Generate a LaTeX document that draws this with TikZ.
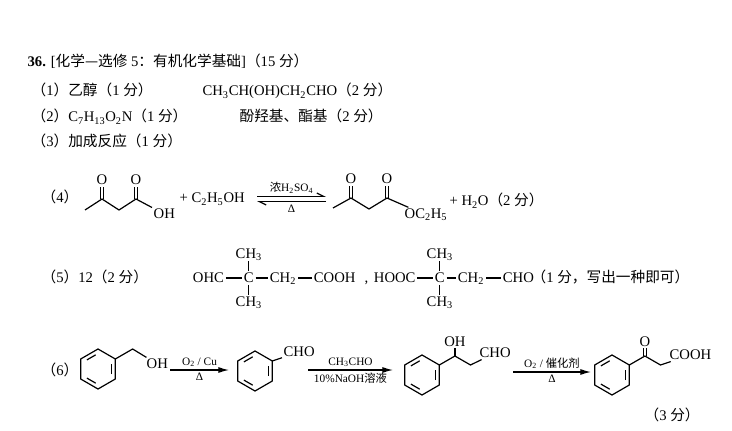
\documentclass[tikz,border=0pt]{standalone}
\usepackage{fontspec}
\setmainfont{Liberation Serif}
\newfontfamily\cjk{Noto Sans CJK SC}
\usetikzlibrary{arrows.meta,positioning}
\newcommand{\Zh}[1]{{\cjk #1}}
\newcommand{\Sb}[1]{\textsubscript{#1}}
% benzene ring, corners #1-1 ... #1-6 (#1-1 upper right)
\newcommand{\Ring}[2]{%
  \begin{scope}[shift={#2}]
    \foreach \k in {1,...,6}
      \coordinate (#1-\k) at (\k*60-30:20);
    \draw (#1-1) -- (#1-2) -- (#1-3) -- (#1-4) -- (#1-5) -- (#1-6) -- cycle;
    \draw[shorten <=2pt,shorten >=2pt] (90:15.5) -- (150:15.5);
    \draw[shorten <=2pt,shorten >=2pt] (210:15.5) -- (270:15.5);
    \draw[shorten <=2pt,shorten >=2pt] (330:15.5) -- (30:15.5);
  \end{scope}}

\begin{document}
\begin{tikzpicture}[x=0.75pt,y=0.75pt,line width=0.9pt,line join=round,
    font=\fontsize{11}{13}\selectfont,
    txt/.style={anchor=base west,inner sep=0pt},
    grp/.style={inner sep=1pt,text height=7pt,text depth=0.5pt},
    atom/.style={inner sep=0.8pt},
    dbl/.style={double,double distance=1.6pt},
    lbl/.style={font=\fontsize{8.5}{10}\selectfont,inner sep=2pt},
    rxn/.style={-{Latex[length=8pt,width=4.5pt]}},
    eqm/.style={-{Straight Barb[left,length=5pt,width=5pt]}}]
  \useasboundingbox (0,0) rectangle (732,-431);

  % heading and (1)-(3)
  \node[txt] (head) at (27,-67) {\textbf{36.} [\Zh{化学—选修} 5\Zh{：有机化学基础}]\Zh{（}15 \Zh{分）}};
  \node[txt] (q1) at (31,-96) {\Zh{（}1\Zh{）乙醇（}1 \Zh{分）}};
  \node[txt] (a1) at (202,-96) {CH\Sb{3}CH(OH)CH\Sb{2}CHO\Zh{（}2 \Zh{分）}};
  \node[txt] (q2) at (31,-122) {\Zh{（}2\Zh{）}C\Sb{7}H\Sb{13}O\Sb{2}N\Zh{（}1 \Zh{分）}};
  \node[txt] (a2) at (239,-122) {\Zh{酚羟基、酯基（}2 \Zh{分）}};
  \node[txt] (q3) at (31,-147) {\Zh{（}3\Zh{）加成反应（}1 \Zh{分）}};

  % (4)
  \node[txt] (q4) at (41,-203) {\Zh{（}4\Zh{）}};
  \coordinate (k1) at (85,-210);
  \coordinate (k2) at (102,-199);
  \coordinate (k3) at (119,-210);
  \coordinate (k4) at (136,-199);
  \node[atom] (ko2) at (102,-180) {O};
  \node[atom] (ko4) at (136,-180) {O};
  \node[atom,anchor=west] (koh) at (152,-214) {OH};
  \draw[dbl] (k2) -- (ko2);
  \draw[dbl] (k4) -- (ko4);
  \draw (k1) -- (k2) -- (k3) -- (k4) -- (koh);
  \node[txt] (etoh) at (179,-203) {+ C\Sb{2}H\Sb{5}OH};
  \coordinate (eqa) at (257,-199);
  \coordinate (eqb) at (326,-199);
  \draw[eqm] ([yshift=2pt]eqa) -- ([yshift=2pt]eqb)
    node[lbl,midway,above] {\Zh{浓}H\Sb{2}SO\Sb{4}};
  \draw[eqm] ([yshift=-2pt]eqb) -- ([yshift=-2pt]eqa)
    node[lbl,midway,below] {Δ};
  \coordinate (e1) at (333,-208);
  \coordinate (e2) at (351,-198);
  \coordinate (e3) at (369,-209);
  \coordinate (e4) at (387,-198);
  \node[atom] (eo2) at (351,-179) {O};
  \node[atom] (eo4) at (387,-179) {O};
  \node[atom,anchor=west] (eoet) at (403,-215) {OC\Sb{2}H\Sb{5}};
  \draw[dbl] (e2) -- (eo2);
  \draw[dbl] (e4) -- (eo4);
  \draw (e1) -- (e2) -- (e3) -- (e4) -- (eoet);
  \node[txt] (h2o) at (449,-206) {+ H\Sb{2}O\Zh{（}2 \Zh{分）}};

  % (5)
  \node[txt] (q5) at (41,-282) {\Zh{（}5\Zh{）}12\Zh{（}2 \Zh{分）}};
  \node[grp,anchor=west] (ohc) at (191,-278) {OHC};
  \node[grp,anchor=west] (cq) at (242,-278) {C};
  \node[grp,above=7.5pt of cq] (cqa) {CH\Sb{3}};
  \node[grp,below=7.5pt of cq] (cqb) {CH\Sb{3}};
  \node[grp,anchor=west] (ch2) at (268,-278) {CH\Sb{2}};
  \node[grp,anchor=west] (cooh) at (312,-278) {COOH};
  \node[txt] (comma) at (364,-282) {,};
  \draw (ohc) -- (cq) -- (ch2) -- (cooh);
  \draw (cq) -- (cqa);
  \draw (cq) -- (cqb);
  \node[grp,anchor=west] (hooc) at (372,-278) {HOOC};
  \node[grp,anchor=west] (cr) at (433,-278) {C};
  \node[grp,above=7.5pt of cr] (cra) {CH\Sb{3}};
  \node[grp,below=7.5pt of cr] (crb) {CH\Sb{3}};
  \node[grp,anchor=west] (ch2b) at (456,-278) {CH\Sb{2}};
  \node[grp,anchor=west] (cho) at (501,-278) {CHO};
  \node[txt] (note5) at (531,-282) {\Zh{（}1 \Zh{分，写出一种即可）}};
  \draw (hooc) -- (cr) -- (ch2b) -- (cho);
  \draw (cr) -- (cra);
  \draw (cr) -- (crb);

  % (6)
  \node[txt] (q6) at (41,-375) {\Zh{（}6\Zh{）}};
  \Ring{ra}{(98,-369)}
  \coordinate (ra7) at ([shift={(30:20)}]ra-1);
  \node[atom,anchor=west] (raoh) at (145,-364) {OH};
  \draw (ra-1) -- (ra7) -- (raoh);
  \coordinate (a1s) at (170,-370);
  \coordinate (a1e) at (229,-370);
  \draw[rxn] (a1s) -- (a1e) node[lbl,midway,above] {O\Sb{2} / Cu}
    node[lbl,midway,below] {Δ};

  \Ring{rb}{(255,-371)}
  \node[atom,anchor=west] (rbcho) at (282,-352) {CHO};
  \draw (rb-1) -- (rbcho);
  \coordinate (a2s) at (308,-370);
  \coordinate (a2e) at (393,-370);
  \draw[rxn] (a2s) -- (a2e) node[lbl,midway,above] {CH\Sb{3}CHO}
    node[lbl,midway,below] {10\%NaOH\Zh{溶液}};

  \Ring{rc}{(422,-375)}
  \coordinate (rc7) at ([shift={(30:18)}]rc-1);
  \coordinate (rc8) at ([shift={(-30:18)}]rc7);
  \node[atom,above=6pt of rc7] (rcoh) {OH};
  \node[atom,anchor=west] (rccho) at (478,-353) {CHO};
  \draw (rc-1) -- (rc7) -- (rc8) -- (rccho);
  \draw (rc7) -- (rcoh);
  \coordinate (a3s) at (513,-372);
  \coordinate (a3e) at (591,-372);
  \draw[rxn] (a3s) -- (a3e) node[lbl,midway,above] {O\Sb{2} / \Zh{催化剂}}
    node[lbl,midway,below] {Δ};

  \Ring{rd}{(612,-375)}
  \coordinate (rd7) at ([shift={(30:18)}]rd-1);
  \coordinate (rd8) at ([shift={(-30:18)}]rd7);
  \node[atom,above=6pt of rd7] (rdo) {O};
  \node[atom,anchor=west] (rdcooh) at (668,-355) {COOH};
  \draw[dbl] (rd7) -- (rdo);
  \draw (rd-1) -- (rd7) -- (rd8) -- (rdcooh);

  \node[txt] (pts) at (644,-420) {\Zh{（}3 \Zh{分）}};
\end{tikzpicture}
\end{document}
